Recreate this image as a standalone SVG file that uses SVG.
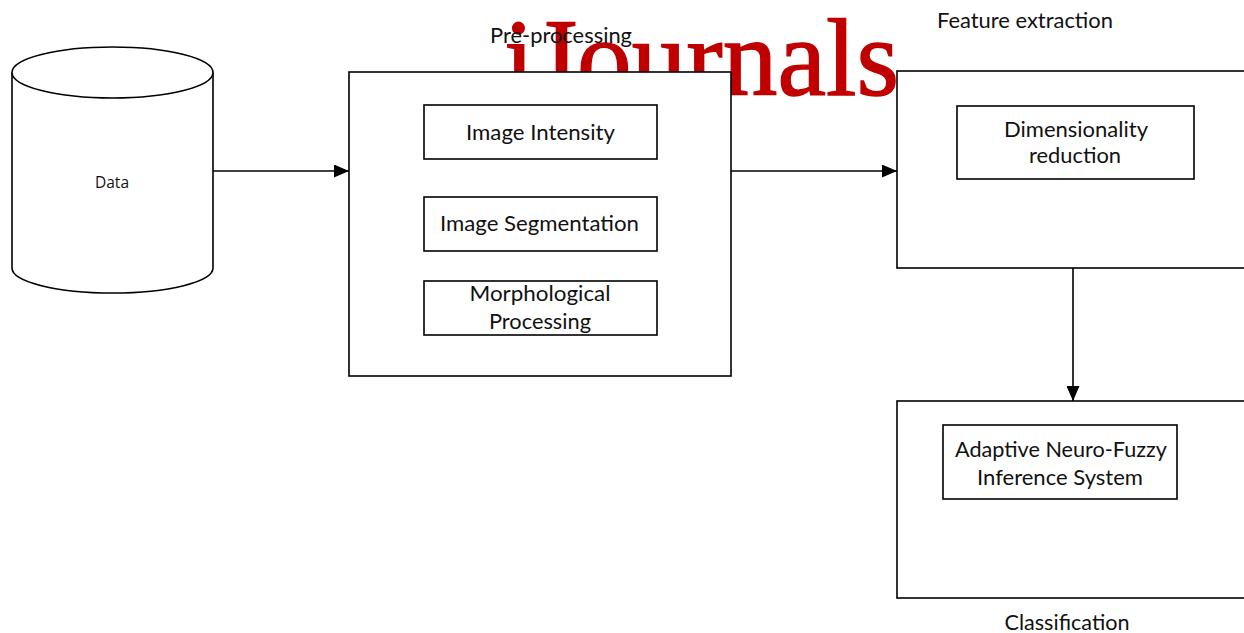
<svg xmlns="http://www.w3.org/2000/svg" width="1244" height="633" viewBox="0 0 1244 633">
  <style>
    .box { fill: #ffffff; stroke: #000000; stroke-width: 1.6; }
    .label { font-family: Lato, "Noto Sans", "Liberation Sans", sans-serif; font-size: 21.5px; fill: #111111; text-anchor: middle; }
    .small { font-family: "Open Sans", "Noto Sans", "Liberation Sans", sans-serif; font-size: 15.5px; fill: #111111; text-anchor: middle; }
    .wire { fill: none; stroke: #000000; stroke-width: 1.6; }
    .mark { font-family: "Liberation Serif", "DejaVu Serif", serif; font-size: 110px; fill: #c00000; stroke: #c00000; stroke-width: 1.4; }
  </style>
  <defs>
    <marker id="arrow" markerWidth="15" markerHeight="13" refX="15" refY="6.5" orient="auto" markerUnits="userSpaceOnUse">
      <path d="M0,0 L15,6.5 L0,13 Z" fill="#000000"/>
    </marker>
  </defs>

  <rect x="0" y="0" width="1244" height="633" fill="#ffffff"/>

  <!-- publisher mark, sits behind the boxes -->
  <text class="mark" x="504" y="95" textLength="395" lengthAdjust="spacingAndGlyphs">iJournals</text>

  <g id="data">
    <path class="box" d="M12,72.5 L12,268 A100.5,25 0 0 0 213,268 L213,72.5"/>
    <ellipse class="box" cx="112.5" cy="72.5" rx="100.5" ry="25.5"/>
    <text class="small" x="112" y="188">Data</text>
  </g>

  <g id="preprocessing">
    <rect class="box" x="349" y="72" width="382" height="304"/>
    <text class="label" x="561" y="43" textLength="142" lengthAdjust="spacingAndGlyphs">Pre-processing</text>
  </g>

  <g id="image-intensity">
    <rect class="box" x="424" y="105" width="233" height="54"/>
    <text class="label" x="540.5" y="140" textLength="149" lengthAdjust="spacingAndGlyphs">Image Intensity</text>
  </g>

  <g id="image-segmentation">
    <rect class="box" x="424" y="197" width="233" height="54"/>
    <text class="label" x="539.5" y="231" textLength="199" lengthAdjust="spacingAndGlyphs">Image Segmentation</text>
  </g>

  <g id="morphological-processing">
    <rect class="box" x="424" y="281" width="233" height="54"/>
    <text class="label" x="540" y="301" textLength="141" lengthAdjust="spacingAndGlyphs">Morphological</text>
    <text class="label" x="540" y="329" textLength="102" lengthAdjust="spacingAndGlyphs">Processing</text>
  </g>

  <g id="feature-extraction">
    <rect class="box" x="897" y="71" width="360" height="197"/>
    <text class="label" x="1025" y="28" textLength="176" lengthAdjust="spacingAndGlyphs">Feature extraction</text>
  </g>

  <g id="dimensionality-reduction">
    <rect class="box" x="957" y="106" width="237" height="73"/>
    <text class="label" x="1076" y="137" textLength="144" lengthAdjust="spacingAndGlyphs">Dimensionality</text>
    <text class="label" x="1075" y="163" textLength="92" lengthAdjust="spacingAndGlyphs">reduction</text>
  </g>

  <g id="classification">
    <rect class="box" x="897" y="401" width="360" height="197"/>
    <text class="label" x="1067" y="630" textLength="125" lengthAdjust="spacingAndGlyphs">Classification</text>
  </g>

  <g id="anfis">
    <rect class="box" x="943" y="425" width="234" height="74"/>
    <text class="label" x="1061" y="457" textLength="212" lengthAdjust="spacingAndGlyphs">Adaptive Neuro-Fuzzy</text>
    <text class="label" x="1060" y="485" textLength="166" lengthAdjust="spacingAndGlyphs">Inference System</text>
  </g>

  <g id="connectors">
    <line class="wire" x1="213" y1="171" x2="349" y2="171" marker-end="url(#arrow)"/>
    <line class="wire" x1="731" y1="171" x2="897" y2="171" marker-end="url(#arrow)"/>
    <line class="wire" x1="1073" y1="268" x2="1073" y2="401" marker-end="url(#arrow)"/>
  </g>
</svg>
